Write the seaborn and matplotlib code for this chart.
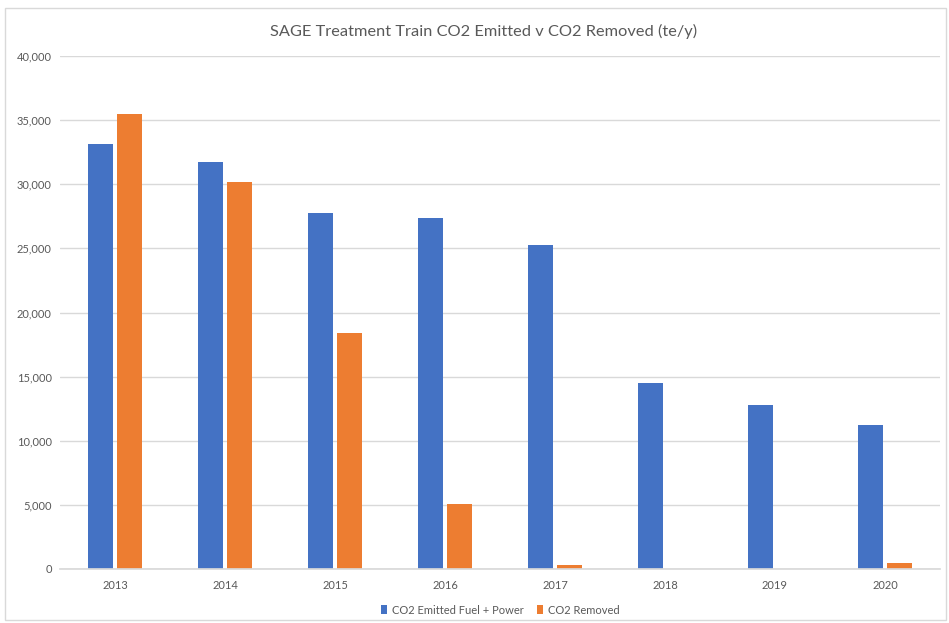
import matplotlib
matplotlib.use("Agg")
import matplotlib.pyplot as plt
import seaborn as sns
import pandas as pd
from matplotlib.patches import Rectangle

years = ["2013", "2014", "2015", "2016", "2017", "2018", "2019", "2020"]
emitted = [33150, 31750, 27750, 27350, 25250, 14500, 12800, 11250]
removed = [35450, 30150, 18400, 5050, 300, 0, 0, 450]
series_names = ["CO2 Emitted Fuel + Power", "CO2 Removed"]
colors = ["#4472C4", "#ED7D31"]

df = pd.DataFrame({
    "Year": years * 2,
    "Value": emitted + removed,
    "Series": [series_names[0]] * len(years) + [series_names[1]] * len(years),
})

sns.set_theme(style="white")
plt.rcParams["font.family"] = ["Lato", "DejaVu Sans"]

fig = plt.figure(figsize=(9.49, 6.23), dpi=100)
ax = fig.add_axes([0.0632, 0.0867, 0.9273, 0.8233])
sns.barplot(data=df, x="Year", y="Value", hue="Series", palette=colors,
            width=0.52, gap=0.13, ax=ax, legend=True, saturation=1,
            linewidth=0, edgecolor="none")

ax.set_xlim(-0.5, 7.5)
ax.set_ylim(0, 40000)
ax.set_yticks(range(0, 40001, 5000))
ax.set_yticklabels([f"{v:,}" for v in range(0, 40001, 5000)])
ax.yaxis.grid(True, color="#D9D9D9", linewidth=1)
ax.set_axisbelow(True)
for s in ["top", "right", "left"]:
    ax.spines[s].set_visible(False)
ax.spines["bottom"].set_color("#D9D9D9")
ax.tick_params(axis="both", length=0, labelsize=8, colors="#595959")
ax.tick_params(axis="x", pad=8)
ax.tick_params(axis="y", pad=6)
ax.set_xlabel("")
ax.set_ylabel("")

fig.suptitle("SAGE Treatment Train CO2 Emitted v CO2 Removed (te/y)",
             x=0.51, y=0.962, fontsize=11.8, color="#595959")

leg = ax.legend(loc="upper center", bbox_to_anchor=(0.5, -0.05), ncol=2,
                frameon=False, fontsize=8, handlelength=0.6, handleheight=0.9,
                columnspacing=1.2, handletextpad=0.4)
for t in leg.get_texts():
    t.set_color("#595959")

fig.patches.append(Rectangle((5 / 949, 3 / 623), 941 / 949, 612 / 623,
                             transform=fig.transFigure, fill=False,
                             edgecolor="#D9D9D9", linewidth=1))

fig.savefig("out.png", dpi=100)
